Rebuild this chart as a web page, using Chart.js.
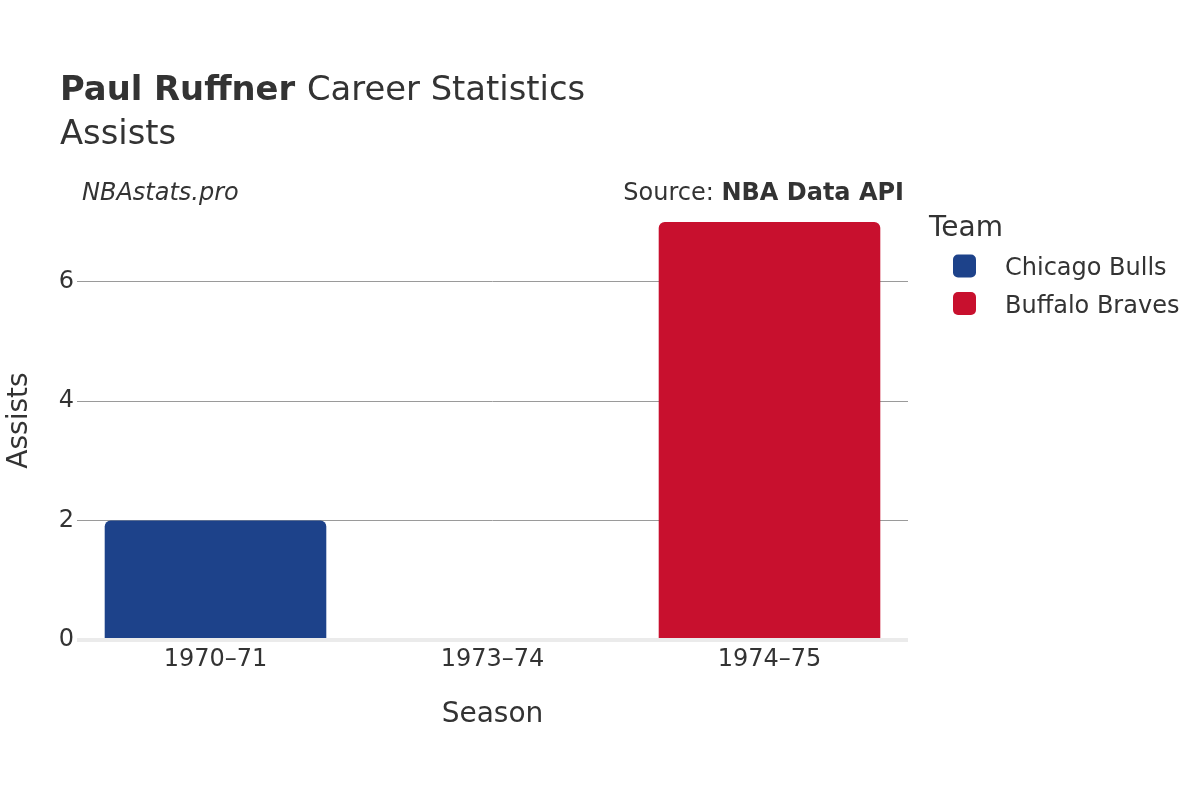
<!DOCTYPE html>
<html>
<head>
<meta charset="utf-8">
<script src="https://cdn.jsdelivr.net/npm/chart.js@4.4.1/dist/chart.umd.min.js"></script>
<style>
  html, body { margin: 0; padding: 0; background: #fff; }
  #wrap { width: 1200px; height: 800px; }
</style>
</head>
<body>
<div id="wrap"><canvas id="chart" width="1200" height="800"></canvas></div>
<script>
// ---- DATA ----
const seasons = ['1970–71', '1973–74', '1974–75'];
const teams = ['Chicago Bulls', 'Buffalo Braves'];
const teamColors = ['#1D428A', '#C8102E'];
const bullsAssists = [2, null, null];
const bravesAssists = [null, null, 7];
const yTicks = [0, 2, 4, 6];

const FONT = '"DejaVu Sans", sans-serif';
const TEXT = '#333333';

// ---- TITLES, AXIS TITLES, LEGEND ----
const decorPlugin = {
  id: 'decor',
  afterDraw(chart) {
    const ctx = chart.ctx;
    ctx.save();
    ctx.fillStyle = TEXT;
    ctx.textBaseline = 'alphabetic';

    // title
    ctx.textAlign = 'left';
    ctx.font = `bold 33.8px ${FONT}`;
    ctx.fillText('Paul Ruffner', 60, 100);
    const w = ctx.measureText('Paul Ruffner ').width;
    ctx.font = `33.8px ${FONT}`;
    ctx.fillText('Career Statistics', 60 + w, 100);
    ctx.fillText('Assists', 60, 144);

    // credits
    ctx.font = `italic 24px ${FONT}`;
    ctx.fillText('NBAstats.pro', 82, 200);
    ctx.textAlign = 'right';
    ctx.font = `bold 24px ${FONT}`;
    ctx.fillText('NBA Data API', 904, 200);
    const bw = ctx.measureText('NBA Data API').width;
    ctx.font = `24px ${FONT}`;
    ctx.fillText('Source: ', 904 - bw, 200);

    // axis titles
    ctx.textAlign = 'center';
    ctx.font = `28px ${FONT}`;
    const area = chart.chartArea;
    ctx.fillText('Season', (area.left + area.right) / 2, 722);
    ctx.save();
    ctx.translate(27, (area.top + area.bottom) / 2);
    ctx.rotate(-Math.PI / 2);
    ctx.fillText('Assists', 0, 0);
    ctx.restore();

    // legend
    ctx.textAlign = 'left';
    ctx.font = `28px ${FONT}`;
    ctx.fillText('Team', 929, 236);
    ctx.font = `24px ${FONT}`;
    chart.data.datasets.forEach((ds, i) => {
      const cy = 266 + i * 37.5;
      ctx.fillStyle = ds.backgroundColor;
      ctx.beginPath();
      ctx.roundRect(953, cy - 11.5, 23, 23, 5);
      ctx.fill();
      ctx.fillStyle = TEXT;
      ctx.fillText(ds.label, 1005, cy + 9);
    });
    ctx.restore();
  },
};

const ctx = document.getElementById('chart').getContext('2d');
new Chart(ctx, {
  type: 'bar',
  data: {
    labels: seasons,
    datasets: [
      { label: teams[0], data: bullsAssists, backgroundColor: teamColors[0] },
      { label: teams[1], data: bravesAssists, backgroundColor: teamColors[1] },
    ].map(ds => ({
      ...ds,
      borderRadius: { topLeft: 6, topRight: 6 },
      borderSkipped: 'bottom',
      categoryPercentage: 0.8,
      barPercentage: 1,
      grouped: false,
    })),
  },
  options: {
    responsive: false,
    devicePixelRatio: 1,
    animation: false,
    layout: { padding: { top: 201, right: 292, left: 0, bottom: 0 } },
    plugins: {
      legend: { display: false },
      tooltip: { enabled: false },
    },
    scales: {
      x: {
        grid: { display: false },
        border: { display: false },
        ticks: { color: TEXT, font: { family: FONT, size: 24 }, padding: -3 },
        afterFit: s => { s.height = 160; },
      },
      y: {
        min: 0,
        max: 7.35,
        afterBuildTicks: s => { s.ticks = yTicks.map(v => ({ value: v })); },
        afterFit: s => { s.width = 77; },
        border: { display: false },
        grid: {
          drawTicks: false,
          color: c => (c.tick && c.tick.value === 0 ? '#ebebeb' : '#9a9a9a'),
          lineWidth: c => (c.tick && c.tick.value === 0 ? 4 : 1),
        },
        ticks: { color: TEXT, font: { family: FONT, size: 24 }, padding: 3 },
      },
    },
  },
  plugins: [decorPlugin],
});
</script>
</body>
</html>
